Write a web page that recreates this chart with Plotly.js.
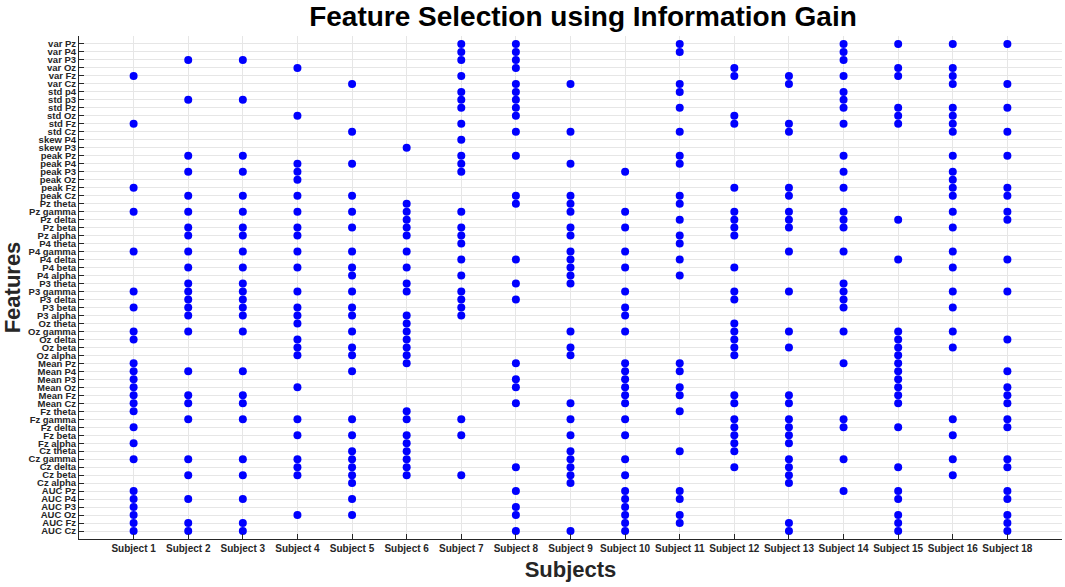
<!DOCTYPE html>
<html>
<head>
<meta charset="utf-8">
<script src="https://cdn.plot.ly/plotly-3.0.1.min.js"></script>
<style>html,body{margin:0;padding:0;background:#fff;}#chart{width:1065px;height:587px;}</style>
</head>
<body>
<div id="chart"></div>
<script>
// Feature labels, top to bottom as drawn
const features = [
  "var Pz","var P4","var P3","var Oz","var Fz","var Cz",
  "std p4","std p3","std Pz","std Oz","std Fz","std Cz",
  "skew P4","skew P3",
  "peak Pz","peak P4","peak P3","peak Oz","peak Fz","peak Cz",
  "Pz theta","Pz gamma","Pz delta","Pz beta","Pz alpha",
  "P4 theta","P4 gamma","P4 delta","P4 beta","P4 alpha",
  "P3 theta","P3 gamma","P3 delta","P3 beta","P3 alpha",
  "Oz theta","Oz gamma","Oz delta","Oz beta","Oz alpha",
  "Mean Pz","Mean P4","Mean P3","Mean Oz","Mean Fz","Mean Cz",
  "Fz theta","Fz gamma","Fz delta","Fz beta","Fz alpha",
  "Cz theta","Cz gamma","Cz delta","Cz beta","Cz alpha",
  "AUC Pz","AUC P4","AUC P3","AUC Oz","AUC Fz","AUC Cz"
];

const subjects = ["Subject 1","Subject 2","Subject 3","Subject 4","Subject 5","Subject 6",
  "Subject 7","Subject 8","Subject 9","Subject 10","Subject 11","Subject 12","Subject 13",
  "Subject 14","Subject 15","Subject 16","Subject 18"];

// Selected features per subject
const subject1 = ["var Fz","std Fz","peak Fz","Pz gamma","P4 gamma","P3 gamma","P3 beta","Oz gamma","Oz delta","Mean Pz","Mean P4","Mean P3","Mean Oz","Mean Fz","Mean Cz","Fz theta","Fz delta","Fz alpha","Cz gamma","AUC Pz","AUC P4","AUC P3","AUC Oz","AUC Fz","AUC Cz"];
const subject2 = ["var P3","std p3","peak Pz","peak P3","peak Cz","Pz gamma","Pz beta","Pz alpha","P4 gamma","P4 beta","P3 theta","P3 gamma","P3 delta","P3 beta","P3 alpha","Oz gamma","Mean P4","Mean Fz","Mean Cz","Fz gamma","Cz gamma","Cz beta","AUC P4","AUC Fz","AUC Cz"];
const subject3 = ["var P3","std p3","peak Pz","peak P3","peak Cz","Pz gamma","Pz beta","Pz alpha","P4 gamma","P4 beta","P3 theta","P3 gamma","P3 delta","P3 beta","P3 alpha","Oz gamma","Mean P4","Mean Fz","Mean Cz","Fz gamma","Cz gamma","Cz beta","AUC P4","AUC Fz","AUC Cz"];
const subject4 = ["var Oz","std Oz","peak P4","peak P3","peak Oz","peak Cz","Pz gamma","Pz beta","Pz alpha","P4 gamma","P4 beta","P3 gamma","P3 beta","P3 alpha","Oz theta","Oz delta","Oz beta","Oz alpha","Mean Oz","Fz gamma","Fz beta","Cz gamma","Cz delta","Cz beta","AUC Oz"];
const subject5 = ["var Cz","std Cz","peak P4","peak Cz","Pz gamma","Pz beta","P4 gamma","P4 beta","P4 alpha","P3 gamma","P3 beta","P3 alpha","Oz gamma","Oz beta","Oz alpha","Mean P4","Fz gamma","Fz beta","Cz theta","Cz gamma","Cz delta","Cz beta","Cz alpha","AUC P4","AUC Oz"];
const subject6 = ["skew P3","Pz theta","Pz gamma","Pz delta","Pz beta","Pz alpha","P4 gamma","P4 beta","P3 theta","P3 gamma","P3 alpha","Oz theta","Oz gamma","Oz delta","Oz beta","Oz alpha","Mean Pz","Fz theta","Fz gamma","Fz beta","Fz alpha","Cz theta","Cz gamma","Cz delta","Cz beta"];
const subject7 = ["var Pz","var P4","var P3","var Fz","std p4","std p3","std Pz","std Fz","skew P4","peak Pz","peak P4","peak P3","Pz gamma","Pz beta","Pz alpha","P4 theta","P4 delta","P4 alpha","P3 gamma","P3 delta","P3 beta","P3 alpha","Fz gamma","Fz beta","Cz beta"];
const subject8 = ["var Pz","var P4","var P3","var Oz","var Cz","std p4","std p3","std Pz","std Oz","std Cz","peak Pz","peak Cz","Pz theta","P4 delta","P3 theta","P3 delta","Mean Pz","Mean P3","Mean Oz","Mean Cz","Cz delta","AUC Pz","AUC P3","AUC Oz","AUC Cz"];
const subject9 = ["var Cz","std Cz","peak P4","peak Cz","Pz theta","Pz gamma","Pz beta","Pz alpha","P4 gamma","P4 delta","P4 beta","P4 alpha","P3 theta","Oz gamma","Oz beta","Oz alpha","Mean Cz","Fz gamma","Fz beta","Cz theta","Cz gamma","Cz delta","Cz beta","Cz alpha","AUC Cz"];
const subject10 = ["peak P3","Pz gamma","Pz beta","P4 gamma","P4 beta","P3 gamma","P3 beta","P3 alpha","Oz gamma","Mean Pz","Mean P4","Mean P3","Mean Oz","Mean Fz","Mean Cz","Fz gamma","Fz beta","Cz gamma","Cz beta","AUC Pz","AUC P4","AUC P3","AUC Oz","AUC Fz","AUC Cz"];
const subject11 = ["var Pz","var P4","var Cz","std p4","std Pz","std Cz","peak Pz","peak P4","peak Cz","Pz theta","Pz delta","Pz alpha","P4 theta","P4 delta","P4 alpha","Mean Pz","Mean P4","Mean Oz","Mean Fz","Fz theta","Cz theta","AUC Pz","AUC P4","AUC Oz","AUC Fz"];
const subject12 = ["var Oz","var Fz","std Oz","std Fz","peak Fz","Pz gamma","Pz delta","Pz beta","Pz alpha","P4 beta","P3 gamma","P3 delta","Oz theta","Oz gamma","Oz delta","Oz beta","Oz alpha","Mean Fz","Mean Cz","Fz gamma","Fz delta","Fz beta","Fz alpha","Cz theta","Cz delta"];
const subject13 = ["var Fz","var Cz","std Fz","std Cz","peak Fz","peak Cz","Pz gamma","Pz delta","Pz beta","P4 gamma","P3 gamma","Oz gamma","Oz beta","Mean Fz","Mean Cz","Fz gamma","Fz delta","Fz beta","Fz alpha","Cz gamma","Cz delta","Cz beta","Cz alpha","AUC Fz","AUC Cz"];
const subject14 = ["var Pz","var P4","var P3","var Fz","std p4","std p3","std Pz","std Fz","peak Pz","peak P3","peak Fz","Pz gamma","Pz delta","Pz beta","P4 gamma","P3 theta","P3 gamma","P3 delta","P3 beta","Oz gamma","Mean Pz","Fz gamma","Fz delta","Cz gamma","AUC Pz"];
const subject15 = ["var Pz","var Oz","var Fz","std Pz","std Oz","std Fz","Pz delta","P4 delta","Oz gamma","Oz delta","Oz beta","Oz alpha","Mean Pz","Mean P4","Mean P3","Mean Oz","Mean Fz","Mean Cz","Fz delta","Cz delta","AUC Pz","AUC P4","AUC Oz","AUC Fz","AUC Cz"];
const subject16 = ["var Pz","var Oz","var Fz","var Cz","std Pz","std Oz","std Fz","std Cz","peak Pz","peak P3","peak Oz","peak Fz","peak Cz","Pz gamma","Pz beta","P4 gamma","P4 beta","P3 gamma","P3 beta","Oz gamma","Oz beta","Fz gamma","Fz beta","Cz gamma","Cz beta"];
const subject18 = ["var Pz","var Cz","std Pz","std Cz","peak Pz","peak Fz","peak Cz","Pz gamma","Pz delta","P4 delta","P3 gamma","Oz delta","Mean P4","Mean Oz","Mean Fz","Mean Cz","Fz gamma","Fz delta","Cz gamma","Cz delta","AUC Pz","AUC P4","AUC Oz","AUC Fz","AUC Cz"];

const selections = [subject1,subject2,subject3,subject4,subject5,subject6,subject7,subject8,
  subject9,subject10,subject11,subject12,subject13,subject14,subject15,subject16,subject18];

// Build scatter from the arrays (features drawn top to bottom)
const nF = features.length;
const xs = [], ys = [];
selections.forEach((list, si) => {
  list.forEach(f => {
    const idx = features.indexOf(f);
    if (idx >= 0) { xs.push(si + 1); ys.push(nF - idx); }
  });
});

const fontFam = '"Liberation Sans", Arial, Helvetica, sans-serif';
const axisColor = '#262626';
const gridColor = '#e6e6e6';

const trace = {
  type: 'scatter', mode: 'markers', x: xs, y: ys,
  marker: {color: '#0000ff', size: 8, line: {width: 0}},
  hoverinfo: 'skip', cliponaxis: false
};

const layout = {
  width: 1065, height: 587,
  margin: {l: 79, r: 3, t: 36, b: 48, pad: 0},
  paper_bgcolor: '#ffffff', plot_bgcolor: '#ffffff',
  showlegend: false,
  font: {family: fontFam, color: axisColor},
  title: {
    text: 'Feature Selection using Information Gain',
    font: {family: fontFam, size: 28, weight: 700, color: '#000000'},
    x: 583/1065, xref: 'container', xanchor: 'center',
    y: 1 - 16/587, yref: 'container', yanchor: 'middle'
  },
  xaxis: {
    range: [0, subjects.length + 1],
    tickmode: 'array',
    tickvals: subjects.map((s, i) => i + 1),
    ticktext: subjects,
    tickfont: {family: fontFam, size: 10, weight: 700, color: axisColor},
    ticks: 'inside', ticklen: 5, tickcolor: axisColor, tickwidth: 1,
    showline: true, linecolor: axisColor, linewidth: 1, mirror: false,
    showgrid: true, gridcolor: gridColor, gridwidth: 1,
    zeroline: false, fixedrange: true,
    title: {text: 'Subjects', font: {family: fontFam, size: 22, weight: 700, color: axisColor}, standoff: 8}
  },
  yaxis: {
    range: [0, nF + 1],
    tickmode: 'array',
    tickvals: features.map((f, i) => nF - i),
    ticktext: features,
    tickfont: {family: fontFam, size: 9.5, weight: 700, color: axisColor},
    ticks: 'inside', ticklen: 5, tickcolor: axisColor, tickwidth: 1,
    showline: true, linecolor: axisColor, linewidth: 1, mirror: false,
    showgrid: true, gridcolor: gridColor, gridwidth: 1,
    zeroline: false, fixedrange: true,
    title: {text: 'Features', font: {family: fontFam, size: 22, weight: 700, color: axisColor}, standoff: 6}
  }
};

Plotly.newPlot('chart', [trace], layout, {displayModeBar: false, staticPlot: true});
</script>
</body>
</html>
